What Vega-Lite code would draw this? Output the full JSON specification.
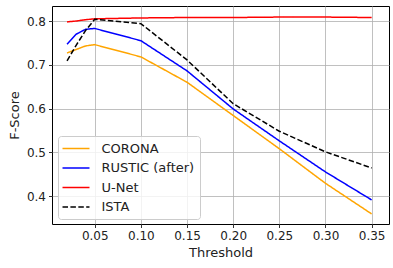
{
  "$schema": "https://vega.github.io/schema/vega-lite/v6.json",
  "width": 337,
  "height": 218,
  "autosize": {"type": "none"},
  "padding": {"left": 52, "top": 6, "right": 4, "bottom": 44},
  "background": "white",
  "config": {
    "font": "DejaVu Sans",
    "view": {"stroke": "black", "strokeWidth": 1},
    "axis": {
      "domain": false,
      "grid": true,
      "gridColor": "#b0b0b0",
      "gridWidth": 0.8,
      "tickColor": "black",
      "tickSize": 3.5,
      "tickWidth": 0.8,
      "labelFont": "DejaVu Sans",
      "labelFontSize": 12,
      "labelColor": "#222",
      "labelPadding": 3,
      "titleFont": "DejaVu Sans",
      "titleFontSize": 13,
      "titleFontWeight": "normal",
      "titleColor": "#222"
    }
  },
  "data": {
    "values": [
      {"t": 0.02, "score": 0.727, "method": "CORONA"},
      {"t": 0.03, "score": 0.735, "method": "CORONA"},
      {"t": 0.04, "score": 0.743, "method": "CORONA"},
      {"t": 0.05, "score": 0.746, "method": "CORONA"},
      {"t": 0.10, "score": 0.718, "method": "CORONA"},
      {"t": 0.15, "score": 0.660, "method": "CORONA"},
      {"t": 0.20, "score": 0.584, "method": "CORONA"},
      {"t": 0.25, "score": 0.508, "method": "CORONA"},
      {"t": 0.30, "score": 0.429, "method": "CORONA"},
      {"t": 0.35, "score": 0.359, "method": "CORONA"},
      {"t": 0.02, "score": 0.747, "method": "RUSTIC (after)"},
      {"t": 0.03, "score": 0.770, "method": "RUSTIC (after)"},
      {"t": 0.04, "score": 0.781, "method": "RUSTIC (after)"},
      {"t": 0.05, "score": 0.783, "method": "RUSTIC (after)"},
      {"t": 0.10, "score": 0.755, "method": "RUSTIC (after)"},
      {"t": 0.15, "score": 0.686, "method": "RUSTIC (after)"},
      {"t": 0.20, "score": 0.599, "method": "RUSTIC (after)"},
      {"t": 0.25, "score": 0.526, "method": "RUSTIC (after)"},
      {"t": 0.30, "score": 0.455, "method": "RUSTIC (after)"},
      {"t": 0.35, "score": 0.391, "method": "RUSTIC (after)"},
      {"t": 0.02, "score": 0.798, "method": "U-Net"},
      {"t": 0.03, "score": 0.800, "method": "U-Net"},
      {"t": 0.04, "score": 0.803, "method": "U-Net"},
      {"t": 0.05, "score": 0.805, "method": "U-Net"},
      {"t": 0.10, "score": 0.807, "method": "U-Net"},
      {"t": 0.15, "score": 0.808, "method": "U-Net"},
      {"t": 0.20, "score": 0.808, "method": "U-Net"},
      {"t": 0.25, "score": 0.809, "method": "U-Net"},
      {"t": 0.30, "score": 0.809, "method": "U-Net"},
      {"t": 0.35, "score": 0.808, "method": "U-Net"},
      {"t": 0.02, "score": 0.709, "method": "ISTA"},
      {"t": 0.03, "score": 0.745, "method": "ISTA"},
      {"t": 0.04, "score": 0.778, "method": "ISTA"},
      {"t": 0.05, "score": 0.804, "method": "ISTA"},
      {"t": 0.10, "score": 0.794, "method": "ISTA"},
      {"t": 0.15, "score": 0.711, "method": "ISTA"},
      {"t": 0.20, "score": 0.611, "method": "ISTA"},
      {"t": 0.25, "score": 0.548, "method": "ISTA"},
      {"t": 0.30, "score": 0.501, "method": "ISTA"},
      {"t": 0.35, "score": 0.464, "method": "ISTA"}
    ]
  },
  "mark": {"type": "line", "strokeWidth": 1.5, "clip": true},
  "encoding": {
    "x": {
      "field": "t",
      "type": "quantitative",
      "title": "Threshold",
      "scale": {"domain": [0.0037, 0.3688], "nice": false, "zero": false},
      "axis": {"values": [0.05, 0.1, 0.15, 0.2, 0.25, 0.3, 0.35], "format": ".2f", "titlePadding": 5}
    },
    "y": {
      "field": "score",
      "type": "quantitative",
      "title": "F-Score",
      "scale": {"domain": [0.336, 0.8343], "nice": false, "zero": false},
      "axis": {"values": [0.4, 0.5, 0.6, 0.7, 0.8], "format": ".1f", "titlePadding": 5}
    },
    "color": {
      "field": "method",
      "type": "nominal",
      "title": null,
      "scale": {
        "domain": ["CORONA", "RUSTIC (after)", "U-Net", "ISTA"],
        "range": ["#FFA500", "#0000FF", "#FF0000", "#000000"]
      },
      "legend": {
        "orient": "none",
        "legendX": 6,
        "legendY": 130,
        "symbolType": "M-2,0H2",
        "symbolSize": 182,
        "symbolOffset": 5.5,
        "symbolStrokeWidth": 1.5,
        "symbolFillColor": "transparent",
        "labelFontSize": 13,
        "labelFont": "DejaVu Sans",
        "labelColor": "#222",
        "labelOffset": 18,
        "rowPadding": 4.5,
        "padding": 5,
        "fillColor": "rgba(255,255,255,0.8)",
        "strokeColor": "#cccccc",
        "cornerRadius": 3
      }
    },
    "strokeDash": {
      "field": "method",
      "type": "nominal",
      "title": null,
      "scale": {
        "domain": ["CORONA", "RUSTIC (after)", "U-Net", "ISTA"],
        "range": [[1, 0], [1, 0], [1, 0], [5.5, 2.4]]
      }
    }
  }
}
